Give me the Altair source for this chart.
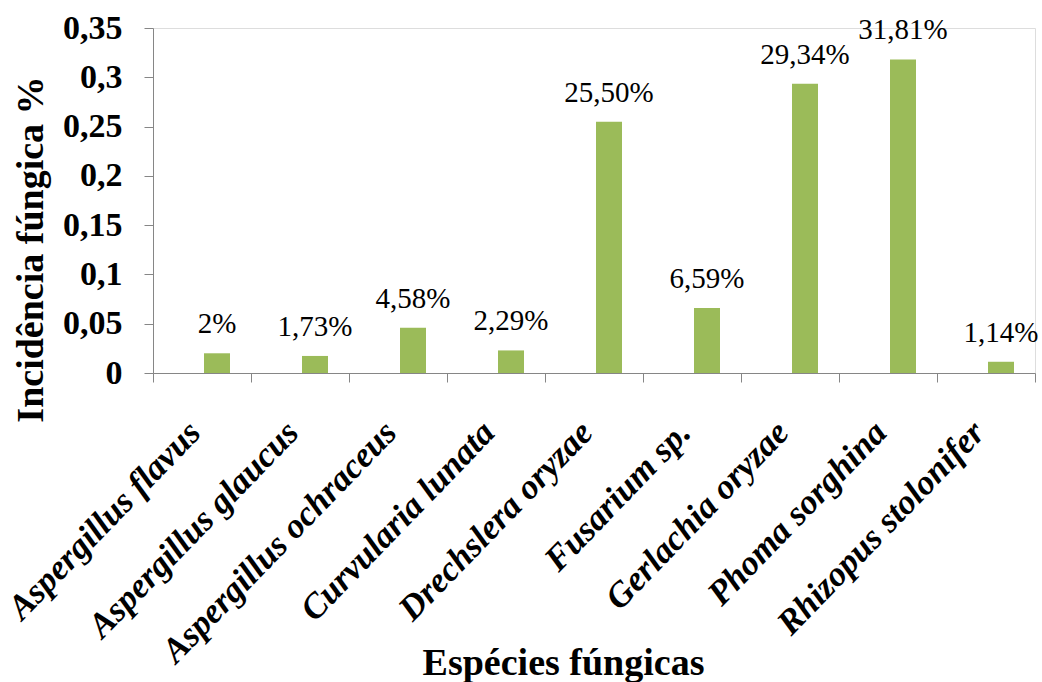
import altair as alt
import pandas as pd

species = ["Aspergillus flavus", "Aspergillus glaucus", "Aspergillus ochraceus",
           "Curvularia lunata", "Drechslera oryzae", "Fusarium sp.",
           "Gerlachia oryzae", "Phoma sorghina", "Rhizopus stolonifer"]
values = [0.02, 0.0173, 0.0458, 0.0229, 0.255, 0.0659, 0.2934, 0.3181, 0.0114]
labels = ["2%", "1,73%", "4,58%", "2,29%", "25,50%", "6,59%", "29,34%", "31,81%", "1,14%"]

df = pd.DataFrame({"species": species, "value": values, "label": labels})

FONT = "Liberation Serif, Times New Roman, serif"
AXC = "#868686"

x = alt.X("species:N", sort=species,
          scale=alt.Scale(paddingInner=0, paddingOuter=0),
          axis=alt.Axis(title="Espécies fúngicas", tickBand="extent",
                        labelAngle=-46, labelAlign="right", labelBaseline="alphabetic",
                        labelFont=FONT, labelFontSize=35, labelFontWeight="bold",
                        labelFontStyle="italic", labelColor="black", labelPadding=52,
                        labelLimit=600, labelOverlap=False, labelFlush=False,
                        domainColor=AXC, tickColor=AXC, tickSize=9,
                        titleFont=FONT, titleFontSize=38, titleFontWeight="bold",
                        titleColor="black", titleX=410, titleY=301,
                        titleBaseline="alphabetic", titleAnchor="middle"))
y = alt.Y("value:Q", scale=alt.Scale(domain=[0, 0.35], nice=False),
          axis=alt.Axis(title="Incidência fúngica %", values=[0, 0.05, 0.1, 0.15, 0.2, 0.25, 0.3, 0.35],
                        labelExpr="replace(toString(datum.value), '.', ',')",
                        grid=False, labelFont=FONT, labelFontSize=34, labelFontWeight="bold",
                        labelColor="black", labelPadding=22, labelOverlap=False,
                        domainColor=AXC, tickColor=AXC, tickSize=9,
                        titleFont=FONT, titleFontSize=38, titleFontWeight="bold",
                        titleColor="black", titleX=-122, titleY=221, titleAngle=-90,
                        titleBaseline="middle", titleAnchor="middle"))

bars = alt.Chart(df).mark_bar(color="#9BBB59", size=26, xOffset=15).encode(x=x, y=y)
text = alt.Chart(df).mark_text(font=FONT, fontSize=29, dy=-20, xOffset=15,
                               baseline="alphabetic", color="black").encode(x=x, y=y, text="label:N")

chart = (bars + text).properties(
    width=882, height=345,
    autosize=alt.AutoSizeParams(type="none"),
    padding={"left": 153, "top": 28, "right": 7, "bottom": 309},
).configure_view(stroke=None).configure(background="white")

chart.save("out.html", embed_options={"renderer": "svg", "actions": False})
